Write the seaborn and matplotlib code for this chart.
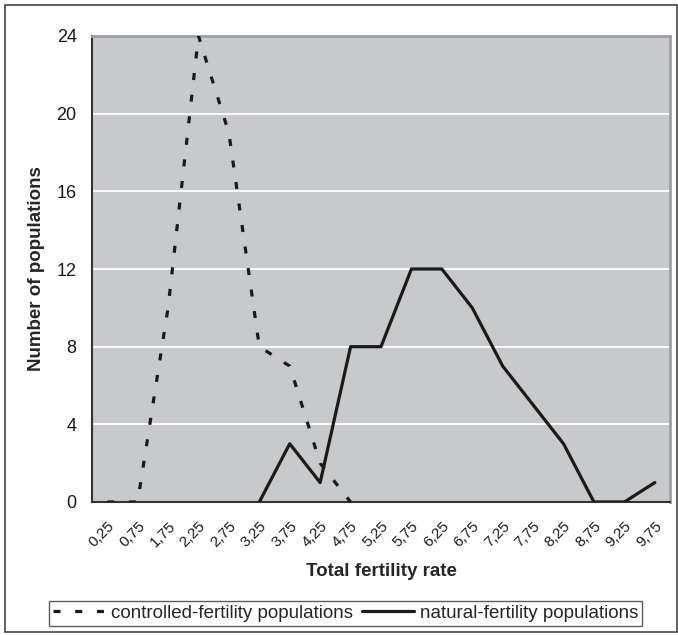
import numpy as np
import pandas as pd
import matplotlib
matplotlib.use("Agg")
import matplotlib.pyplot as plt
import matplotlib.transforms as mtransforms
import seaborn as sns

# categories on the x axis (as printed in the chart)
tfr_labels = ['0,25', '0,75', '1,75', '2,25', '2,75', '3,25', '3,75', '4,25', '4,75', '5,25',
              '5,75', '6,25', '6,75', '7,25', '7,75', '8,25', '8,75', '9,25', '9,75']

# number of populations per category
controlled = [0, 0, 10, 24, 19, 8, 7, 2, 0, np.nan, np.nan, np.nan, np.nan, np.nan,
              np.nan, np.nan, np.nan, np.nan, np.nan]
natural = [np.nan, np.nan, np.nan, np.nan, np.nan, 0, 3, 1, 8, 8,
           12, 12, 10, 7, 5, 3, 0, 0, 1]

y_ticks = [0, 4, 8, 12, 16, 20, 24]

df = pd.DataFrame({'pos': np.arange(len(tfr_labels)),
                   'controlled': controlled,
                   'natural': natural})

sns.set_style("white")
plt.rcParams['font.family'] = ['Liberation Sans', 'DejaVu Sans']

fig = plt.figure(figsize=(6.78, 6.35), dpi=100)
ax = fig.add_axes([92 / 678, 133 / 635, 578 / 678, 466 / 635])
ax.set_facecolor('#c8c9cb')

# outer chart border
fig.patches.append(plt.Rectangle((5 / 678, 3 / 635), 672 / 678, 627 / 635,
                                 transform=fig.transFigure, fill=False,
                                 edgecolor='#444444', linewidth=1.2))

for y in y_ticks[1:-1]:
    ax.axhline(y, color='white', linewidth=1.3, zorder=1)

dash = (0, (2.2, 4.6))
sns.lineplot(data=df, x='pos', y='controlled', ax=ax, color='#1a1a1a', linewidth=2.3,
             linestyle=dash, label='controlled-fertility populations', zorder=3)
sns.lineplot(data=df, x='pos', y='natural', ax=ax, color='#1a1a1a', linewidth=2.3,
             label='natural-fertility populations', zorder=3)

ax.set_xlim(-0.5, len(tfr_labels) - 0.5)
ax.set_ylim(0, 24)
ax.set_yticks(y_ticks)
ax.set_yticklabels([str(v) for v in y_ticks], fontsize=13)

ax.set_xticks(np.arange(len(tfr_labels)))
ax.set_xticklabels(tfr_labels, rotation=45, ha='right', rotation_mode='anchor', fontsize=11)
shift = mtransforms.ScaledTranslation(-6 / 100, 0, fig.dpi_scale_trans)
for lbl in ax.get_xticklabels():
    lbl.set_transform(lbl.get_transform() + shift)
ax.set_xticks(np.arange(len(tfr_labels) + 1) - 0.5, minor=True)
ax.tick_params(axis='x', which='major', length=0, pad=12)
ax.tick_params(axis='x', which='minor', length=4.5, width=1, color='#333333', direction='out')
ax.tick_params(axis='y', length=4.5, width=1, color='#333333', direction='out', pad=6.5)
ax.tick_params(axis='both', labelcolor='#1a1a1a')

for side in ['left', 'bottom']:
    ax.spines[side].set_color('#333333')
    ax.spines[side].set_linewidth(1.5)
for side in ['top', 'right']:
    ax.spines[side].set_color('#a0a0a0')
    ax.spines[side].set_linewidth(2)

ax.set_xlabel('Total fertility rate', fontsize=13.5, fontweight='bold', labelpad=10)
ax.set_ylabel('Number of populations', fontsize=13.5, fontweight='bold', labelpad=8)

leg = ax.legend(loc='upper center', bbox_to_anchor=(345.5 / 678, 1 - 601 / 635),
                bbox_transform=fig.transFigure, ncol=2,
                fontsize=13.5, frameon=True, fancybox=False, handlelength=2.8,
                columnspacing=0.45, handletextpad=0.3, borderpad=0.2, borderaxespad=0)
leg.get_frame().set_edgecolor('#333333')
leg.get_frame().set_linewidth(1)
for h in leg.get_lines():
    h.set_linewidth(2.3)

fig.savefig('out.png', dpi=100)
